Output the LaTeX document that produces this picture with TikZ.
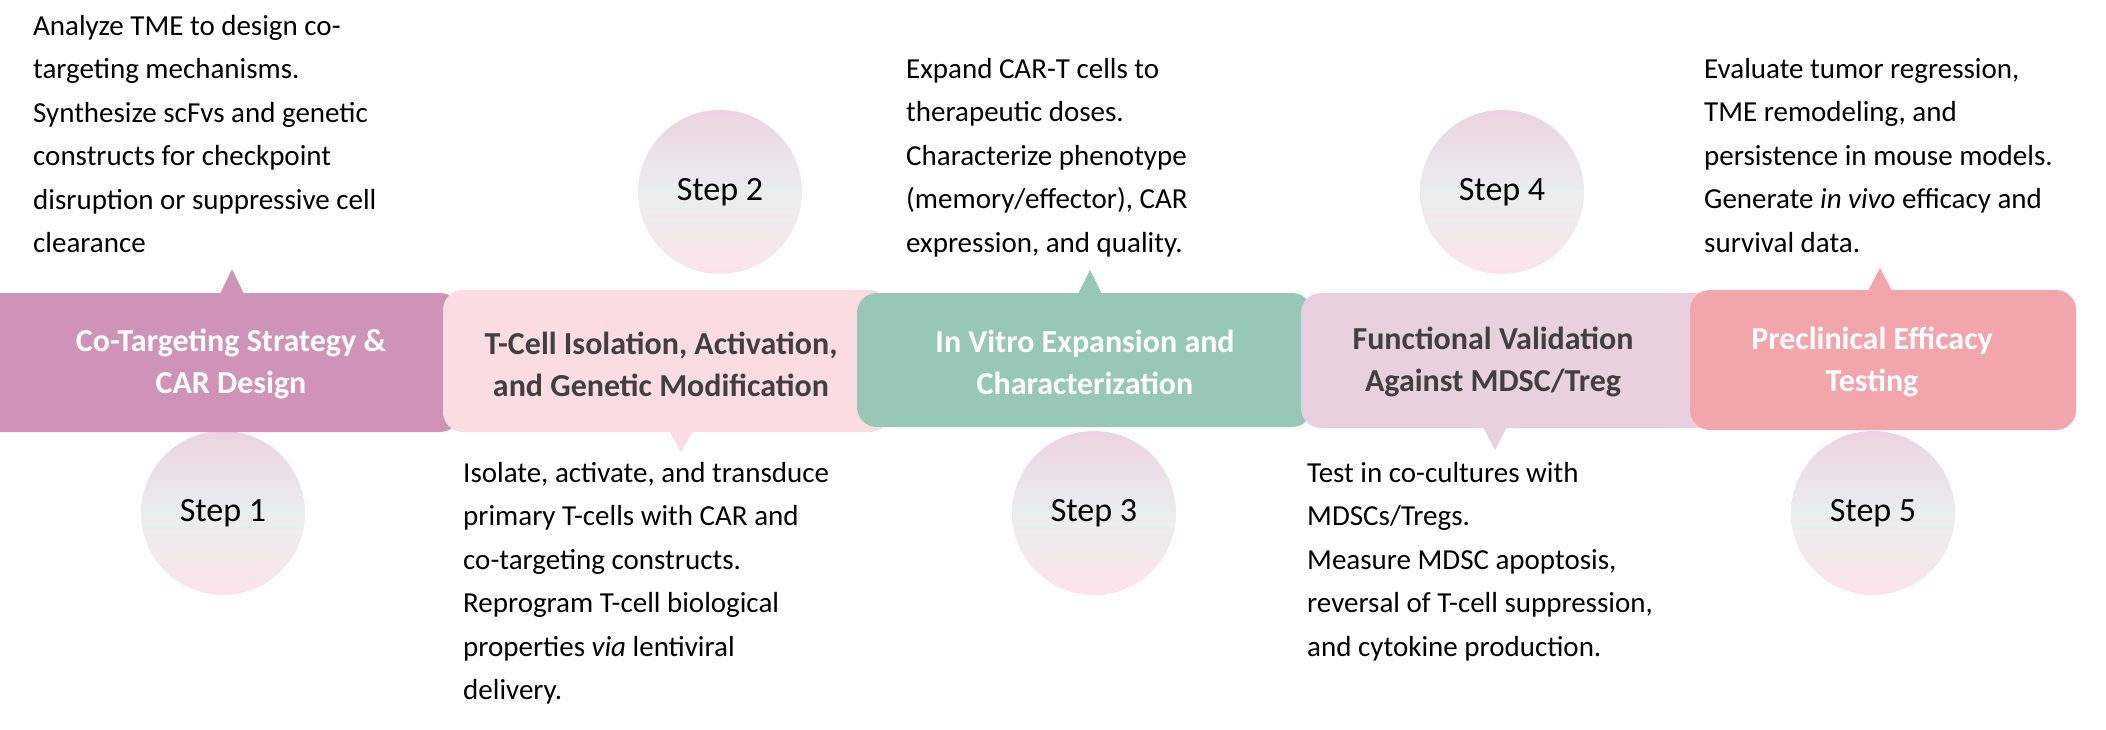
\documentclass[tikz,border=0pt]{standalone}
\usepackage{fontspec}
\setmainfont{Carlito}
\begin{document}
\begin{tikzpicture}[x=1pt,y=-1pt,
  box/.style={rounded corners=20pt},
  ttl/.style={font=\fontsize{32}{42}\selectfont\bfseries,align=center,inner sep=0},
  body/.style={font=\fontsize{29}{43.5}\selectfont,align=left,anchor=north west,inner sep=0,text=black},
  stepc/.style={circle,minimum size=164pt,inner sep=0,top color=cA,bottom color=cC,middle color=cB,font=\fontsize{34}{40}\selectfont,text=black}]
\definecolor{b1}{HTML}{CE93B6}
\definecolor{b2}{HTML}{FBDDE1}
\definecolor{b3}{HTML}{97C7B6}
\definecolor{b4}{HTML}{E8D0DF}
\definecolor{b5}{HTML}{F2A6AC}
\definecolor{cA}{HTML}{EBD3E1}
\definecolor{cB}{HTML}{EAEEED}
\definecolor{cC}{HTML}{FBE4EA}
\definecolor{dk}{HTML}{404040}
\useasboundingbox (0,0) rectangle (2106,730);
\fill[white] (0,0) rectangle (2106,730);
% circles
\node[stepc] (s1) at (223,513) {Step 1};
\node[stepc] (s2) at (720,192) {Step 2};
\node[stepc] (s3) at (1094,513) {Step 3};
\node[stepc] (s4) at (1502,192) {Step 4};
\node[stepc] (s5) at (1873,513) {Step 5};
% boxes
\fill[b1,box] (-30,293) rectangle (460,432);
\fill[b1] (220,294) -- (232,269) -- (244,294) -- cycle;
\node[ttl,text=white] (t1) at (231,364) {Co-Targeting Strategy \&\\CAR Design};
\fill[b2,box] (443,290) rectangle (890,432);
\fill[b2] (669,431) -- (681,452) -- (693,431) -- cycle;
\node[ttl,text=dk] (t2) at (661,364) {T-Cell Isolation, Activation,\\and Genetic Modification};
\fill[b3,box] (857,293) rectangle (1312,427);
\fill[b3] (1078,294) -- (1090,270) -- (1102,294) -- cycle;
\node[ttl,text=white] (t3) at (1085,362) {In Vitro Expansion and\\Characterization};
\fill[b4,box] (1301,293) rectangle (1760,428);
\fill[b4] (1483,427) -- (1495,450) -- (1507,427) -- cycle;
\node[ttl,text=dk] (t4) at (1493,362) {Functional Validation\\Against MDSC/Treg};
\fill[b5,box] (1690,290) rectangle (2076,430);
\fill[b5] (1868,291) -- (1880,268) -- (1892,291) -- cycle;
\node[ttl,text=white] (t5) at (1872,362) {Preclinical Efficacy\\Testing};
% body texts
\node[body] (d1) at (33,15) {Analyze TME to design co-\\targeting mechanisms.\\Synthesize scFvs and genetic\\constructs for checkpoint\\disruption or suppressive cell\\clearance};
\node[body] (d2) at (463,462) {Isolate, activate, and transduce\\primary T-cells with CAR and\\co-targeting constructs.\\Reprogram T-cell biological\\properties \textit{via} lentiviral\\delivery.};
\node[body] (d3) at (906,58) {Expand CAR-T cells to\\therapeutic doses.\\Characterize phenotype\\(memory/effector), CAR\\expression, and quality.};
\node[body] (d4) at (1307,462) {Test in co-cultures with\\MDSCs/Tregs.\\Measure MDSC apoptosis,\\reversal of T-cell suppression,\\and cytokine production.};
\node[body] (d5) at (1704,58) {Evaluate tumor regression,\\TME remodeling, and\\persistence in mouse models.\\Generate \textit{in vivo} efficacy and\\survival data.};
\end{tikzpicture}
\end{document}
